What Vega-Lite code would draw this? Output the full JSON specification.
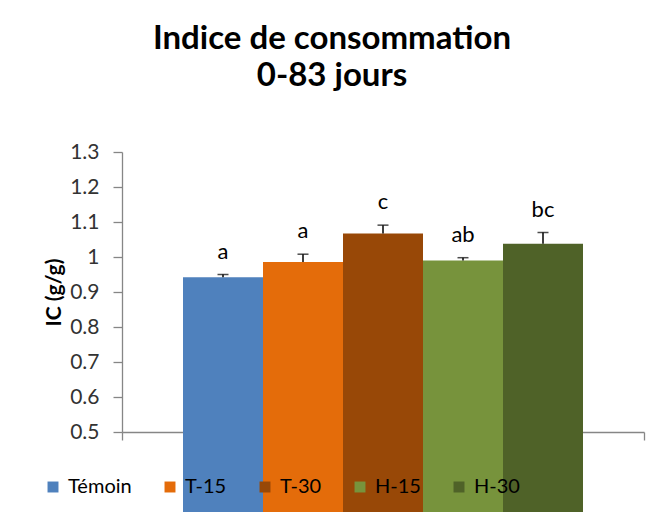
{
  "$schema": "https://vega.github.io/schema/vega-lite/v6.json",
  "width": 522,
  "height": 280,
  "autosize": {"type": "none"},
  "padding": {"left": 122, "top": 152, "right": 2, "bottom": 80},
  "background": "white",
  "title": {
    "text": ["Indice de consommation", "0-83 jours"],
    "font": "Lato",
    "fontSize": 33,
    "fontWeight": "bold",
    "color": "#000000",
    "anchor": "middle",
    "dx": -51,
    "offset": 48,
    "lineHeight": 37
  },
  "data": {
    "values": [
      {"cat": "0-83", "groupe": "Témoin", "ic": 0.942, "upper": 0.950, "lettre": "a"},
      {"cat": "0-83", "groupe": "T-15", "ic": 0.986, "upper": 1.008, "lettre": "a"},
      {"cat": "0-83", "groupe": "T-30", "ic": 1.067, "upper": 1.091, "lettre": "c"},
      {"cat": "0-83", "groupe": "H-15", "ic": 0.990, "upper": 0.998, "lettre": "ab"},
      {"cat": "0-83", "groupe": "H-30", "ic": 1.038, "upper": 1.070, "lettre": "bc"}
    ]
  },
  "encoding": {
    "x": {
      "field": "cat",
      "type": "nominal",
      "scale": {"paddingInner": 0, "paddingOuter": 0},
      "axis": {
        "title": null,
        "labels": false,
        "domainColor": "#868686",
        "domainWidth": 1.3,
        "tickColor": "#868686",
        "tickWidth": 1.3,
        "tickSize": 8,
        "tickBand": "extent",
        "grid": false
      }
    },
    "xOffset": {
      "field": "groupe",
      "type": "nominal",
      "sort": ["Témoin", "T-15", "T-30", "H-15", "H-30"],
      "scale": {"paddingInner": 0, "paddingOuter": 0.7625}
    }
  },
  "layer": [
    {
      "mark": {"type": "bar"},
      "encoding": {
        "y": {
          "field": "ic",
          "type": "quantitative",
          "scale": {"domain": [0.5, 1.3], "zero": false, "nice": false},
          "axis": {
            "title": "IC (g/g)",
            "titleFont": "Lato",
            "titleFontSize": 21,
            "titleFontWeight": "bold",
            "titleColor": "#000000",
            "titlePadding": 5,
            "values": [0.5, 0.6, 0.7, 0.8, 0.9, 1, 1.1, 1.2, 1.3],
            "format": "~g",
            "labelOverlap": false,
            "labelFont": "Lato",
            "labelFontSize": 21,
            "labelColor": "#333333",
            "labelPadding": 14,
            "domainColor": "#868686",
            "domainWidth": 1.3,
            "tickColor": "#868686",
            "tickWidth": 1.3,
            "tickSize": 9,
            "grid": false
          }
        },
        "color": {
          "field": "groupe",
          "type": "nominal",
          "sort": ["Témoin", "T-15", "T-30", "H-15", "H-30"],
          "scale": {
            "domain": ["Témoin", "T-15", "T-30", "H-15", "H-30"],
            "range": ["#4F81BD", "#E46C0A", "#984807", "#77933C", "#4F6228"]
          },
          "legend": {
            "title": null,
            "orient": "none",
            "direction": "horizontal",
            "legendX": -79,
            "legendY": 325,
            "symbolType": "square",
            "symbolSize": 120,
            "symbolStrokeWidth": 0,
            "labelFont": "Lato",
            "labelFontSize": 20,
            "labelColor": "#000000",
            "labelOffset": 5,
            "columnPadding": 28,
            "padding": 0
          }
        }
      }
    },
    {
      "mark": {"type": "rule", "color": "#000000", "strokeWidth": 1.5},
      "encoding": {
        "y": {
          "field": "ic",
          "type": "quantitative",
          "axis": {
            "title": "IC (g/g)",
            "values": [0.5, 0.6, 0.7, 0.8, 0.9, 1, 1.1, 1.2, 1.3],
            "format": "~g",
            "labelOverlap": false
          }
        },
        "y2": {"field": "upper"}
      }
    },
    {
      "mark": {"type": "tick", "color": "#000000", "thickness": 1.5, "size": 11},
      "encoding": {
        "y": {
          "field": "upper",
          "type": "quantitative",
          "axis": {
            "title": "IC (g/g)",
            "values": [0.5, 0.6, 0.7, 0.8, 0.9, 1, 1.1, 1.2, 1.3],
            "format": "~g",
            "labelOverlap": false
          }
        }
      }
    },
    {
      "mark": {"type": "text", "baseline": "bottom", "dy": -11, "font": "Lato", "fontSize": 22, "color": "#000000"},
      "encoding": {
        "y": {
          "field": "upper",
          "type": "quantitative",
          "axis": {
            "title": "IC (g/g)",
            "values": [0.5, 0.6, 0.7, 0.8, 0.9, 1, 1.1, 1.2, 1.3],
            "format": "~g",
            "labelOverlap": false
          }
        },
        "text": {"field": "lettre"}
      }
    }
  ],
  "config": {
    "view": {"stroke": null}
  }
}
